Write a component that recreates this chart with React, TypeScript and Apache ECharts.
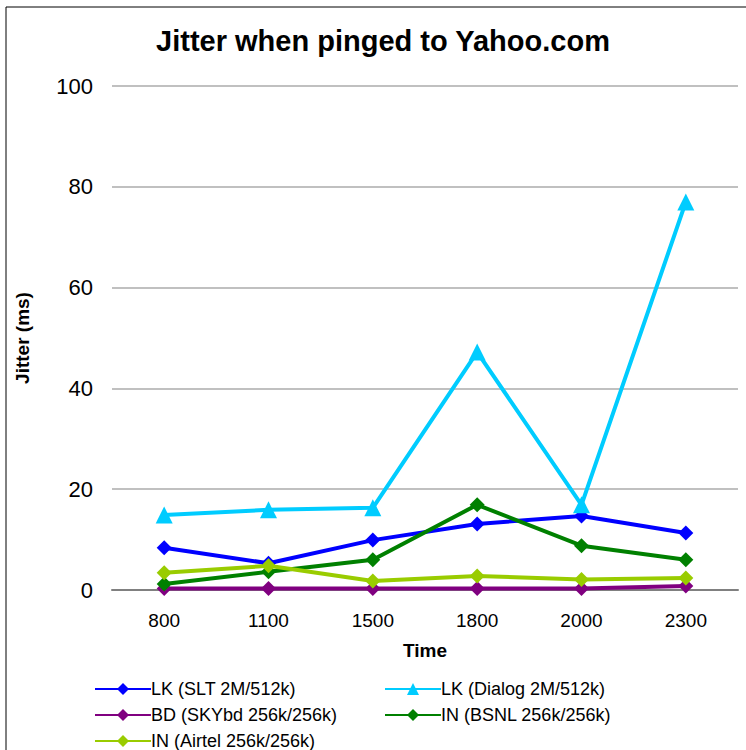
import React, { useEffect, useRef } from "react";
import * as echarts from "echarts";

const categories = ["800", "1100", "1500", "1800", "2000", "2300"];
const sltValues = [8.4, 5.3, 9.9, 13.1, 14.7, 11.3];
const dialogValues = [14.9, 15.9, 16.3, 47.2, 16.9, 77.0];
const skybdValues = [0.3, 0.3, 0.3, 0.3, 0.3, 0.8];
const bsnlValues = [1.2, 3.6, 6.0, 16.9, 8.8, 6.0];
const airtelValues = [3.4, 4.8, 1.8, 2.8, 2.1, 2.4];

const seriesNames = [
  "LK (SLT 2M/512k)",
  "LK (Dialog 2M/512k)",
  "BD (SKYbd 256k/256k)",
  "IN (BSNL 256k/256k)",
  "IN (Airtel 256k/256k)",
];

const FONT = "Liberation Sans, Arial, sans-serif";

export default function App() {
  const ref = useRef<HTMLDivElement>(null);
  useEffect(() => {
    if (!ref.current) return;
    const chart = echarts.init(ref.current, undefined, { renderer: "svg" });
    const mk = (name: string, data: number[], color: string, symbol: string, size: number) => ({
      name,
      type: "line",
      data,
      symbol,
      symbolSize: size,
      showAllSymbol: true,
      lineStyle: { color, width: 4 },
      itemStyle: { color },
      z: 3,
    });
    const legendPos = [
      { left: 89, top: 675 },
      { left: 379, top: 675 },
      { left: 89, top: 701 },
      { left: 379, top: 701 },
      { left: 89, top: 727 },
    ];
    chart.setOption({
      animation: false,
      backgroundColor: "#ffffff",
      title: {
        text: "Jitter when pinged to Yahoo.com",
        left: 378,
        textAlign: "center",
        top: 21,
        textStyle: { fontFamily: FONT, fontSize: 29, fontWeight: "bold", color: "#000" },
      },
      graphic: [
        {
          type: "rect",
          shape: { x: 6, y: 7, width: 760, height: 760 },
          style: { fill: "none", stroke: "#000", lineWidth: 1 },
          silent: true,
        },
      ],
      legend: legendPos.map((p, i) => ({
        data: [seriesNames[i]],
        left: p.left,
        top: p.top,
        itemWidth: 56,
        itemHeight: 15,
        itemGap: 0,
        textStyle: { fontFamily: FONT, fontSize: 18, color: "#000", padding: [0, 0, 0, -5] },
      })),
      grid: { left: 112, right: 8, top: 86, bottom: 160, containLabel: false },
      xAxis: {
        type: "category",
        data: categories,
        boundaryGap: true,
        name: "Time",
        nameLocation: "middle",
        nameGap: 51,
        nameTextStyle: { fontFamily: FONT, fontSize: 19, fontWeight: "bold", color: "#000" },
        axisLine: { lineStyle: { color: "#808080", width: 2 } },
        axisTick: { show: false },
        axisLabel: { fontFamily: FONT, fontSize: 19, color: "#000", margin: 21 },
      },
      yAxis: {
        type: "value",
        min: 0,
        max: 100,
        interval: 20,
        name: "Jitter (ms)",
        nameLocation: "middle",
        nameGap: 80,
        nameTextStyle: { fontFamily: FONT, fontSize: 19, fontWeight: "bold", color: "#000" },
        axisLine: { show: false },
        axisTick: { show: false },
        axisLabel: { fontFamily: FONT, fontSize: 22, color: "#000", margin: 19 },
        splitLine: { lineStyle: { color: "#c0c0c0", width: 2 } },
      },
      series: [
        mk(seriesNames[0], sltValues, "#0000ff", "diamond", 15),
        mk(seriesNames[1], dialogValues, "#00ccff", "triangle", 17),
        mk(seriesNames[2], skybdValues, "#800080", "diamond", 15),
        mk(seriesNames[3], bsnlValues, "#008000", "diamond", 15),
        mk(seriesNames[4], airtelValues, "#99cc00", "diamond", 15),
      ],
    });
    return () => chart.dispose();
  }, []);
  return (
    <div
      ref={ref}
      style={{ position: "absolute", left: 0, top: 0, width: 746, height: 750 }}
    />
  );
}
